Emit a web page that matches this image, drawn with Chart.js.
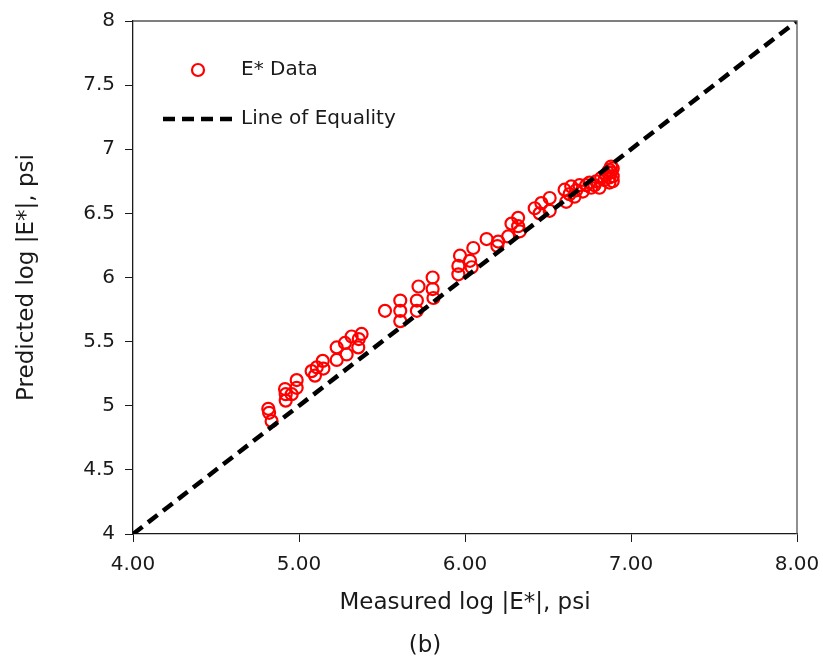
<!DOCTYPE html>
<html>
<head>
<meta charset="utf-8">
<title>Predicted vs Measured |E*|</title>
<script src="https://cdn.jsdelivr.net/npm/chart.js@4.4.1/dist/chart.umd.min.js"></script>
<style>
    html, body { margin: 0; padding: 0; background: #fff; }
    #modulusChart { display: block; }
</style>
</head>
<body>
<canvas id="modulusChart" width="823" height="668"></canvas>
<script>
// measured vs predicted log |E*| (psi)
const measuredLogE = [
    4.815, 4.82, 4.835, 4.916, 4.92, 4.92, 4.956, 4.986, 4.986, 5.076,
    5.096, 5.107, 5.143, 5.147, 5.227, 5.227, 5.277, 5.287, 5.317, 5.357,
    5.377, 5.36,
    5.518, 5.61, 5.61, 5.61, 5.71, 5.71, 5.72, 5.805, 5.805, 5.81,
    5.96, 5.96, 5.97, 6.03, 6.04, 6.05, 6.13, 6.195, 6.20, 6.26,
    6.28, 6.32, 6.32, 6.33,
    6.42, 6.45, 6.46, 6.51, 6.51, 6.60, 6.61, 6.64, 6.66, 6.69,
    6.71, 6.76, 6.79, 6.82, 6.85, 6.87, 6.88, 6.89, 6.89, 6.87,
    6.81, 6.63, 6.67, 6.73, 6.75, 6.78, 6.84, 6.86, 6.88, 6.89, 6.87
];
const predictedLogE = [
    4.976, 4.945, 4.88, 5.13, 5.09, 5.04, 5.09, 5.20, 5.14, 5.27,
    5.235, 5.30, 5.35, 5.29, 5.455, 5.357, 5.49, 5.40, 5.54, 5.455,
    5.56, 5.52,
    5.74, 5.82, 5.74, 5.66, 5.82, 5.74, 5.93, 6.00, 5.91, 5.84,
    6.025, 6.09, 6.17, 6.13, 6.08, 6.23, 6.30, 6.245, 6.28, 6.32,
    6.42, 6.465, 6.40, 6.36,
    6.54, 6.50, 6.58, 6.62, 6.52, 6.685, 6.59, 6.71, 6.63, 6.72,
    6.67, 6.70, 6.75, 6.775, 6.80, 6.84, 6.865, 6.79, 6.75, 6.74,
    6.70, 6.65, 6.68, 6.72, 6.74, 6.72, 6.76, 6.82, 6.82, 6.85, 6.78
];

// line of equality
const equalityX = [4, 8];
const equalityY = [4, 8];

// axis ticks
const xTickValues = [4, 5, 6, 7, 8];
const yTickValues = [4, 4.5, 5, 5.5, 6, 6.5, 7, 7.5, 8];

const FONT = 'DejaVu Sans';
const INK = '#1a1a1a';

Chart.defaults.font.family = FONT;
Chart.defaults.color = INK;

// box, in-plot legend and the "(b)" caption
const framePlugin = {
    id: 'frame',
    afterDraw: (chart) => {
        const ctx = chart.ctx;
        const a = chart.chartArea;
        ctx.save();

        // top and right edges of the plot box
        ctx.strokeStyle = '#555555';
        ctx.lineWidth = 1.3;
        ctx.beginPath();
        ctx.moveTo(a.left, a.top);
        ctx.lineTo(a.right, a.top);
        ctx.lineTo(a.right, a.bottom);
        ctx.stroke();

        // legend
        ctx.font = '20px "' + FONT + '"';
        ctx.fillStyle = INK;
        ctx.textBaseline = 'middle';
        ctx.textAlign = 'left';

        ctx.strokeStyle = '#ff0000';
        ctx.lineWidth = 2.2;
        ctx.beginPath();
        ctx.arc(a.left + 65, a.top + 49, 6, 0, Math.PI * 2);
        ctx.stroke();
        ctx.fillText('E* Data', a.left + 108, a.top + 49);

        ctx.strokeStyle = '#000000';
        ctx.lineWidth = 4.5;
        ctx.setLineDash([12, 7]);
        ctx.beginPath();
        ctx.moveTo(a.left + 30, a.top + 98);
        ctx.lineTo(a.left + 102, a.top + 98);
        ctx.stroke();
        ctx.setLineDash([]);
        ctx.fillText('Line of Equality', a.left + 108, a.top + 98);

        // caption
        ctx.font = '23px "' + FONT + '"';
        ctx.textAlign = 'center';
        ctx.fillText('(b)', 425, 646);

        ctx.restore();
    }
};

const drawModulusChart = () => {
    const canvas = document.getElementById('modulusChart');
    const ctx = canvas.getContext('2d');

    const points = measuredLogE.map((x, i) => ({ x: x, y: predictedLogE[i] }));
    const equality = equalityX.map((x, i) => ({ x: x, y: equalityY[i] }));

    new Chart(ctx, {
        type: 'scatter',
        data: {
            datasets: [
                {
                    label: 'Line of Equality',
                    data: equality,
                    showLine: true,
                    borderColor: '#000000',
                    borderWidth: 4.5,
                    borderDash: [12, 7],
                    pointRadius: 0,
                    pointHoverRadius: 0,
                    fill: false
                },
                {
                    label: 'E* Data',
                    data: points,
                    pointStyle: 'circle',
                    pointRadius: 6,
                    pointBorderWidth: 2.2,
                    borderColor: '#ff0000',
                    backgroundColor: 'rgba(0,0,0,0)'
                }
            ]
        },
        options: {
            responsive: false,
            animation: false,
            devicePixelRatio: 1,
            layout: {
                padding: { top: 21, right: 26, bottom: 47, left: 0 }
            },
            plugins: {
                legend: { display: false },
                tooltip: { enabled: false }
            },
            scales: {
                x: {
                    type: 'linear',
                    min: 4,
                    max: 8,
                    afterBuildTicks: (scale) => {
                        scale.ticks = xTickValues.map(v => ({ value: v }));
                    },
                    afterFit: (scale) => {
                        scale.height = 87;
                        // labels may hang past the plot edges
                        scale.paddingLeft = 0;
                        scale.paddingRight = 0;
                    },
                    ticks: {
                        padding: 11,
                        color: INK,
                        font: { size: 20 },
                        callback: (value) => Number(value).toFixed(2)
                    },
                    grid: {
                        drawOnChartArea: false,
                        drawTicks: true,
                        tickLength: 8,
                        color: INK
                    },
                    border: { color: INK, width: 1.3 },
                    title: {
                        display: true,
                        text: 'Measured log |E*|, psi',
                        color: INK,
                        font: { size: 23 },
                        padding: { top: 0, bottom: 4 }
                    }
                },
                y: {
                    type: 'linear',
                    min: 4,
                    max: 8,
                    afterBuildTicks: (scale) => {
                        scale.ticks = yTickValues.map(v => ({ value: v }));
                    },
                    afterFit: (scale) => {
                        scale.width = 133;
                        scale.paddingTop = 0;
                        scale.paddingBottom = 0;
                    },
                    ticks: {
                        padding: 10,
                        color: INK,
                        font: { size: 20 },
                        callback: (value) => String(value)
                    },
                    grid: {
                        drawOnChartArea: false,
                        drawTicks: true,
                        tickLength: 8,
                        color: INK
                    },
                    border: { color: INK, width: 1.3 },
                    title: {
                        display: true,
                        text: 'Predicted log |E*|, psi',
                        color: INK,
                        font: { size: 23 },
                        padding: { top: 13, bottom: 0 }
                    }
                }
            }
        },
        plugins: [framePlugin]
    });
};

drawModulusChart();
</script>
</body>
</html>
